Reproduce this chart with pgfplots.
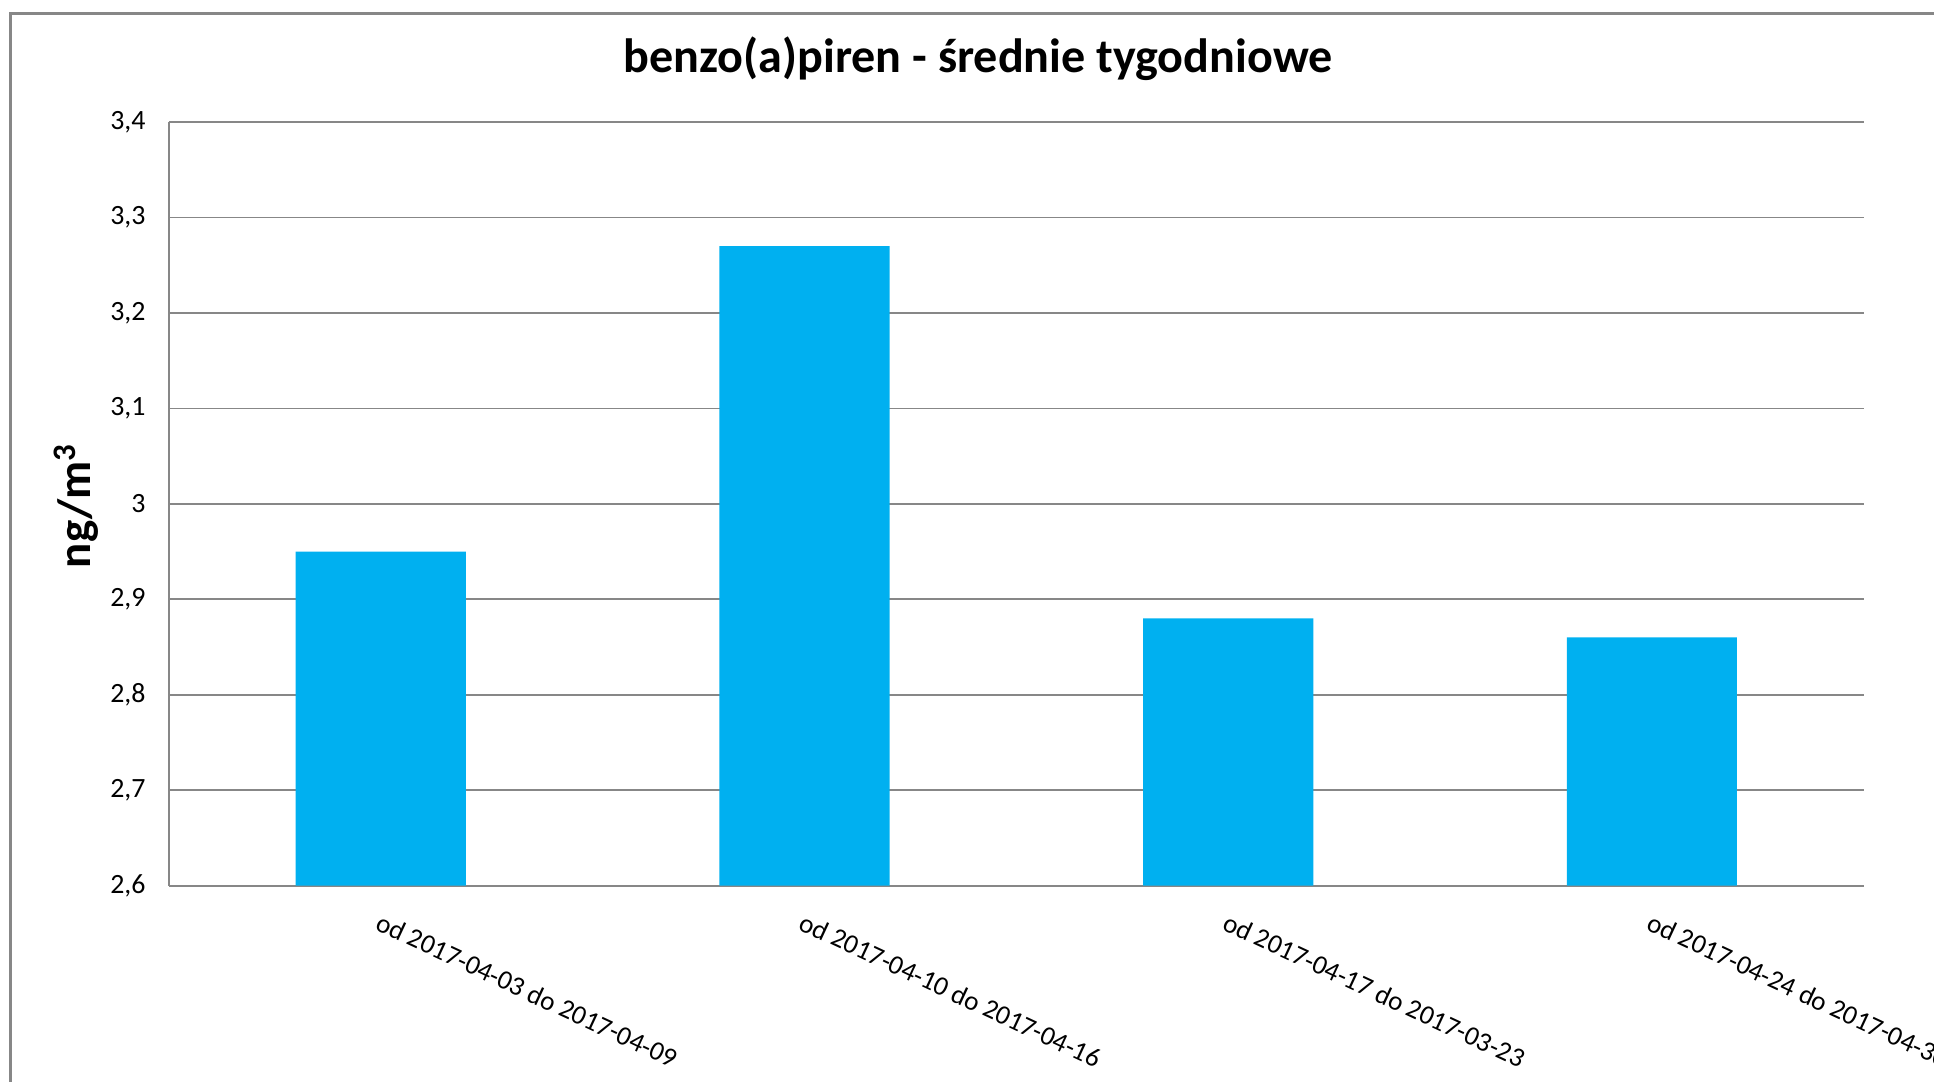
\documentclass[border=0pt]{standalone}
\usepackage{pgfplots}
\pgfplotsset{compat=1.18}
\usepackage{fontspec}
\setmainfont{Carlito}
\definecolor{barblue}{HTML}{00B0F0}
\definecolor{gridgray}{HTML}{878787}
\begin{document}
\begin{tikzpicture}
\useasboundingbox (0,0) rectangle (784pt,438.5pt);
\clip (0,0) rectangle (784pt,438.5pt);
\draw[gridgray, line width=1pt] (4.35pt,-20pt) rectangle (820pt,433pt);
\node[font=\fontsize{19.5}{23}\selectfont\bfseries] at (396.5pt,414.5pt) {benzo(a)piren - średnie tygodniowe};
\node[font=\fontsize{19}{22}\selectfont\bfseries, rotate=90] at (31pt,233.5pt) {ng/m\textsuperscript{3}};
\begin{axis}[
  at={(68.5pt,79.5pt)}, anchor=south west,
  scale only axis, width=687pt, height=309.5pt,
  xmin=-0.5, xmax=3.5, ymin=2.6, ymax=3.4,
  ytick={2.6,2.7,...,3.41},
  xtick={0,1,2,3},
  xticklabels={od 2017-04-03 do 2017-04-09, od 2017-04-10 do 2017-04-16, od 2017-04-17 do 2017-03-23, od 2017-04-24 do 2017-04-30},
  xticklabel style={rotate=-25, anchor=north west, font=\fontsize{11}{13}\selectfont, xshift=1.5pt, yshift=-6pt},
  yticklabel style={font=\fontsize{11.3}{13}\selectfont, xshift=-6pt},
  /pgf/number format/assume math mode=true,
  /pgf/number format/use comma,
  major tick length=0pt,
  ymajorgrids, grid style={gridgray, line width=0.7pt},
  axis line style={gridgray, line width=0.8pt},
  axis x line*=bottom, axis y line*=left,
  ybar, bar width=69pt,
  clip=false,
]
\addplot[fill=barblue, draw=none] coordinates {(0,2.95) (1,3.27) (2,2.88) (3,2.86)};
\end{axis}
\end{tikzpicture}
\end{document}
